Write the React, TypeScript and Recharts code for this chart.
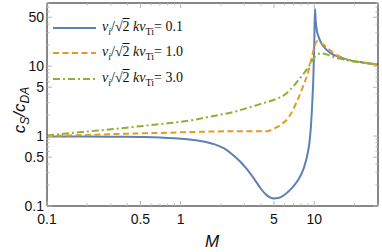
import React from "react";
import { LineChart, Line, XAxis, YAxis, Label } from "recharts";

// M values and c_S/c_DA, one pair of arrays per collision rate
const blueM = [0.1, 0.2, 0.3, 0.5, 0.7, 0.9, 1.0, 1.2, 1.4, 1.6, 1.8, 2.1, 2.4, 2.8, 3.2, 3.6, 4.0, 4.4, 4.8, 5.0, 5.4, 6.0, 6.6, 7.2, 7.8, 8.4, 8.9, 9.2, 9.45, 9.65, 9.85, 10.0, 10.12, 10.25, 10.5, 10.8, 11.2, 11.7, 12.5, 13.5, 14.8, 16.5, 19, 23, 27, 30];
const blueV = [0.99, 0.985, 0.98, 0.97, 0.955, 0.93, 0.915, 0.885, 0.85, 0.81, 0.76, 0.67, 0.56, 0.43, 0.32, 0.235, 0.175, 0.143, 0.13, 0.128, 0.13, 0.145, 0.17, 0.205, 0.26, 0.36, 0.55, 0.8, 1.4, 2.8, 7, 20, 66, 45, 31, 26, 22, 19.3, 16.8, 15, 13.9, 12.9, 12, 11.3, 10.8, 10.5];

const orangeM = [0.1, 0.2, 0.4, 0.7, 1, 1.6, 2.5, 3.5, 4.4, 4.9, 5.3, 5.8, 6.2, 6.8, 7.4, 8.3, 9.05, 9.5, 9.9, 10.5, 11.1, 11.7, 12.5, 14, 16, 19, 23, 27, 30];
const orangeV = [1.0, 1.04, 1.08, 1.11, 1.13, 1.16, 1.17, 1.17, 1.17, 1.25, 1.35, 1.52, 1.7, 2.2, 3.1, 5.3, 8.5, 12.5, 17.3, 22.7, 21.8, 20.4, 18.3, 15.3, 13.4, 12, 11.3, 10.8, 10.5];

const greenM = [0.1, 0.15, 0.24, 0.35, 0.57, 0.8, 1.0, 1.39, 1.6, 2.0, 2.47, 3.0, 3.6, 4.4, 5.2, 5.9, 6.6, 7.4, 8.1, 8.8, 9.6, 10.2, 10.8, 11.4, 12.5, 14, 16, 19, 23, 27, 30];
const greenV = [1.02, 1.1, 1.2, 1.29, 1.42, 1.52, 1.6, 1.77, 1.87, 2.03, 2.2, 2.45, 2.72, 3.06, 3.4, 3.8, 4.6, 5.9, 7.3, 9.0, 11.8, 14, 15, 15.2, 14.6, 13.5, 12.6, 11.8, 11.2, 10.8, 10.5];

const nuLabels = ["0.1", "1.0", "3.0"];

const xMajor = [0.1, 0.5, 1, 5, 10];
const xMinor = [0.2, 0.3, 0.4, 0.6, 0.7, 0.8, 0.9, 2, 3, 4, 6, 7, 8, 9, 20, 30];
const yMajor = [0.1, 0.5, 1, 5, 10, 50];
const yMinor = [0.2, 0.3, 0.4, 0.6, 0.7, 0.8, 0.9, 2, 3, 4, 6, 7, 8, 9, 20, 30, 40, 60, 70, 80];

const xTicks = [...xMajor, ...xMinor].sort((a, b) => a - b);
const yTicks = [...yMajor, ...yMinor].sort((a, b) => a - b);

const toPoints = (ms: number[], vs: number[]) => ms.map((m, i) => ({ M: m, v: vs[i] }));

const series = [
  { name: "blue", data: toPoints(blueM, blueV), color: "#5E81B5", dash: undefined as string | undefined },
  { name: "orange", data: toPoints(orangeM, orangeV), color: "#E19C24", dash: "6 3.5" },
  { name: "green", data: toPoints(greenM, greenV), color: "#8FB032", dash: "7 3 2 3" },
];

const tickFont = "'Liberation Sans', Arial, sans-serif";
const tickGray = "#b5b5b5";

function makeTick(side: "bottom" | "top" | "left" | "right", majors: number[]) {
  return (props: any) => {
    const { x, y, payload } = props;
    const major = majors.includes(payload.value);
    const len = major ? 5 : 2.5;
    if (side === "bottom") {
      return (
        <g>
          <line x1={x} x2={x} y1={y} y2={y - len} stroke={tickGray} />
          {major && (
            <text x={x} y={y + 18} textAnchor="middle" fontFamily={tickFont} fontSize={14} fill="#111">
              {payload.value}
            </text>
          )}
        </g>
      );
    }
    if (side === "top") {
      return <line x1={x} x2={x} y1={y} y2={y + len} stroke={tickGray} />;
    }
    if (side === "left") {
      return (
        <g>
          <line x1={x} x2={x + len} y1={y} y2={y} stroke={tickGray} />
          {major && (
            <text x={x - 3} y={y + 5} textAnchor="end" fontFamily={tickFont} fontSize={14} fill="#111">
              {payload.value}
            </text>
          )}
        </g>
      );
    }
    return <line x1={x} x2={x - len} y1={y} y2={y} stroke={tickGray} />;
  };
}

function YLabel() {
  return (
    <text
      transform="rotate(-90, 25, 110)"
      x={25}
      y={110}
      textAnchor="middle"
      fontFamily={tickFont}
      fontStyle="italic"
      fontSize={17}
      fill="#111"
    >
      c<tspan fontSize={12} dy={4}>S</tspan>
      <tspan dy={-4}>/c</tspan>
      <tspan fontSize={12} dy={4}>DA</tspan>
    </text>
  );
}

function Legend() {
  return (
    <div style={{ position: "absolute", left: 53, top: 15, fontFamily: "'Liberation Serif', 'DejaVu Serif', serif", fontSize: 14, color: "#111" }}>
      {series.map((s, i) => (
        <div key={s.name} style={{ display: "flex", alignItems: "center", height: 25.5 }}>
          <svg width={43} height={6} style={{ marginRight: 6 }}>
            <line x1={0} x2={43} y1={3} y2={3} stroke={s.color} strokeWidth={2} strokeDasharray={s.dash} />
          </svg>
          <span style={{ whiteSpace: "nowrap" }}>
            <i>ν</i>
            <sub style={{ fontSize: 10 }}><i>i</i></sub>/√<span style={{ textDecoration: "overline" }}>2</span>{" "}
            <i>kv</i>
            <sub style={{ fontSize: 10 }}>Ti</sub>= {nuLabels[i]}
          </span>
        </div>
      ))}
    </div>
  );
}

export default function App() {
  return (
    <div style={{ position: "absolute", left: 0, top: 0, width: 382, height: 252, background: "#fff" }}>
      <LineChart width={382} height={252} margin={{ top: 2, right: 3, bottom: 0, left: 0 }}>
        <XAxis
          dataKey="M"
          type="number"
          scale="log"
          domain={[0.1, 30]}
          allowDataOverflow
          ticks={xTicks}
          interval={0}
          tickSize={0}
          tickMargin={0}
          tickLine={false}
          height={46}
          axisLine={{ stroke: "#111" }}
          tick={makeTick("bottom", xMajor)}
        >
          <Label
            content={() => (
              <text x={212} y={247} textAnchor="middle" fontFamily={tickFont} fontStyle="italic" fontSize={17} fill="#111">
                M
              </text>
            )}
          />
        </XAxis>
        <XAxis
          xAxisId="top"
          orientation="top"
          dataKey="M"
          type="number"
          scale="log"
          domain={[0.1, 30]}
          allowDataOverflow
          ticks={xTicks}
          interval={0}
          tickSize={0}
          tickMargin={0}
          tickLine={false}
          height={1}
          axisLine={{ stroke: "#111" }}
          tick={makeTick("top", xMajor)}
        />
        <YAxis
          type="number"
          scale="log"
          domain={[0.1, 80]}
          allowDataOverflow
          ticks={yTicks}
          interval={0}
          tickSize={0}
          tickMargin={0}
          tickLine={false}
          width={47}
          axisLine={{ stroke: "#111" }}
          tick={makeTick("left", yMajor)}
        >
          <Label content={() => <YLabel />} />
        </YAxis>
        <YAxis
          yAxisId="right"
          orientation="right"
          type="number"
          scale="log"
          domain={[0.1, 80]}
          allowDataOverflow
          ticks={yTicks}
          interval={0}
          tickSize={0}
          tickMargin={0}
          tickLine={false}
          width={1}
          axisLine={{ stroke: "#111" }}
          tick={makeTick("right", yMajor)}
        />
        {series.map((s) => (
          <Line
            key={s.name}
            data={s.data}
            dataKey="v"
            type="monotone"
            stroke={s.color}
            strokeWidth={2}
            strokeDasharray={s.dash}
            dot={false}
            isAnimationActive={false}
          />
        ))}
      </LineChart>
      <Legend />
    </div>
  );
}
